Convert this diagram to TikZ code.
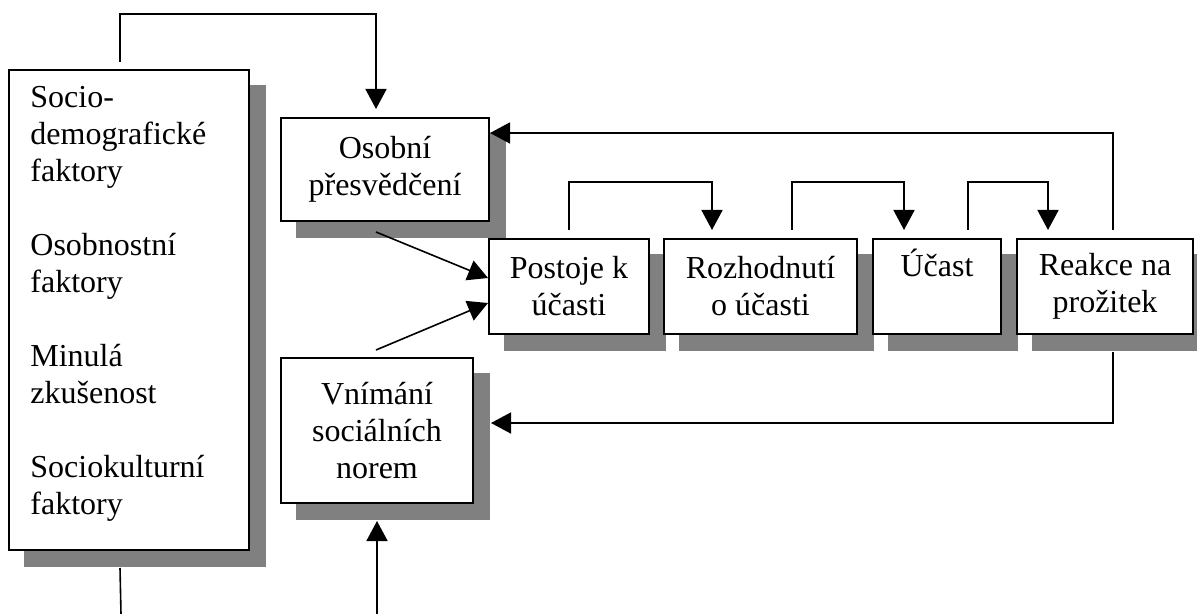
\documentclass[tikz,border=0pt]{standalone}
\usepackage{fontspec}
\setmainfont{Liberation Serif}
\usetikzlibrary{arrows.meta,calc,backgrounds}
\begin{document}
\begin{tikzpicture}[x=0.5pt,y=-0.5pt,
  box/.style={draw=black,line width=1pt,fill=white,inner sep=0pt,align=center,
    font=\fontsize{16}{18.5}\selectfont},
  boxshadow/.style={fill=shadowgray,draw=none},
  conn/.style={line width=0.8pt},
  arr/.style={conn,-{Triangle[length=10pt,width=10.5pt]}}]
\definecolor{shadowgray}{RGB}{128,128,128}
\useasboundingbox (0,0) rectangle (1197,614);
\clip (0,0) rectangle (1197,614);

% boxes
\node[box,minimum width=120pt,minimum height=240pt] (L) at (129,310) {};
\node[anchor=base west,inner sep=0pt,font=\fontsize{16}{18.5}\selectfont] (Lt) at (30,108)
  {\begin{tabular}[t]{@{}l@{}}Socio-\\demografické\\faktory\\ \\Osobnostní\\faktory\\ \\Minulá\\zkušenost\\ \\Sociokulturní\\faktory\end{tabular}};
\node[box,minimum width=104pt,minimum height=51.5pt] (O) at (385,169.5) {Osobní\\přesvědčení};
\node[box,minimum width=96pt,minimum height=72.5pt] (V) at (377,430.5) {Vnímání\\sociálních\\norem};
\node[box,minimum width=80pt,minimum height=47.5pt] (P) at (569,286.5) {Postoje k\\účasti};
\node[box,minimum width=96.5pt,minimum height=47.5pt] (R) at (760.5,286.5) {Rozhodnutí\\o účasti};
\node[box,minimum width=64pt,minimum height=47.5pt] (U) at (937,286.5) {Účast\\\strut};
\node[box,minimum width=88pt,minimum height=47.5pt] (E) at (1105,286.5) {Reakce na\\prožitek};

% shadows
\begin{scope}[on background layer]
  \foreach \n in {L,O,V,P,R,U,E}{
    \fill[boxshadow] ($(\n.north west)+(16,16)$) rectangle ($(\n.south east)+(16,16)$);
  }
\end{scope}

% free ends
\coordinate (bL) at (121,614);
\coordinate (bV) at (377,614);

% connectors
\draw[arr] ($(L.north west)+(112,-7)$) -- ++(0,-48) -| ($(O.north west)+(96,-8)$);
\draw[conn] ($(L.south west)+(112,17)$) -- (bL);
\draw[arr] (bV) -- ($(V.south)+(0,17)$);
\draw[arr] ($(O.south)+(-9,10)$) -- ($(P.west)+(0,-8.5)$);
\draw[arr] ($(V.north)+(-1,-7)$) -- ($(P.west)+(0,16.5)$);
\draw[arr] ($(P.north)+(0,-8)$) -- ++(0,-48) -| ($(R.north west)+(49,-8)$);
\draw[arr] ($(R.north west)+(129,-8)$) -- ++(0,-48) -| ($(U.north west)+(32,-8)$);
\draw[arr] ($(U.north west)+(96,-8)$) -- ++(0,-48) -| ($(E.north west)+(32,-8)$);
\draw[arr] ($(E.north)+(8,-8)$) |- ($(O.north east)+(0,16)$);
\draw[arr] ($(E.south)+(8,17)$) |- ($(V.east)+(17,-7.5)$);
\end{tikzpicture}
\end{document}
